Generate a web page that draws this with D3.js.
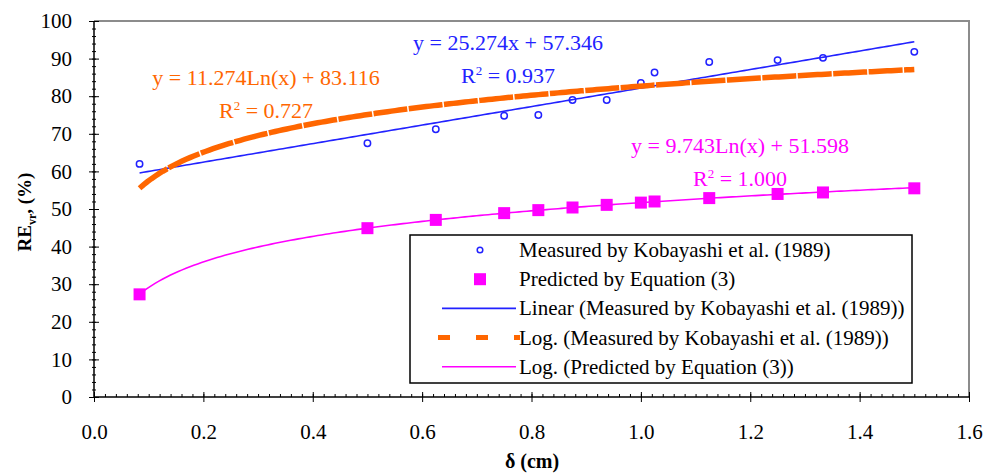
<!DOCTYPE html>
<html>
<head>
<meta charset="utf-8">
<script src="https://cdn.jsdelivr.net/npm/d3@7"></script>
<style>
  body { margin: 0; background: #fff; }
</style>
</head>
<body>
<script>
// DATA
var deltaValues = [0.0833, 0.5, 0.625, 0.75, 0.8125, 0.875, 0.9375, 1.0, 1.025, 1.125, 1.25, 1.333, 1.5];
var measuredValues = [62, 67.5, 71.2, 74.8, 75, 79, 79, 83.5, 86.3, 89.1, 89.6, 90.2, 91.8];
var predictedValues = [27.3, 44.9, 47.1, 48.9, 49.7, 50.4, 51.1, 51.7, 52.0, 52.9, 54.0, 54.4, 55.5];
var yTicks = [0, 10, 20, 30, 40, 50, 60, 70, 80, 90, 100];
var xTicks = [0, 0.2, 0.4, 0.6, 0.8, 1.0, 1.2, 1.4, 1.6];
var legendLabels = [
    "Measured by Kobayashi et al. (1989)",
    "Predicted by Equation (3)",
    "Linear (Measured by Kobayashi et al. (1989))",
    "Log. (Measured by Kobayashi et al. (1989))",
    "Log. (Predicted by Equation (3))"
];
var linearLabels = ["y = 25.274x + 57.346", "0.937"];
var logMeasuredLabels = ["y = 11.274Ln(x) + 83.116", "0.727"];
var logPredictedLabels = ["y = 9.743Ln(x) + 51.598", "1.000"];

var blue = "#2222ff", orange = "#ff6600", magenta = "#ff00ff";
var serif = "'Liberation Serif', 'Times New Roman', Times, 'DejaVu Serif', serif";

// DIMENSIONS
var W = 983, H = 474;
var margin = {top: 21, right: 14, bottom: 77, left: 94};
var width = W - margin.left - margin.right;
var height = H - margin.top - margin.bottom;

var svg = d3.select("body").append("svg")
    .attr("width", W)
    .attr("height", H)
    .attr("font-family", serif);

var g = svg.append("g")
    .attr("transform", `translate(${margin.left}, ${margin.top})`);

var x = d3.scaleLinear().domain([0, 1.6]).range([0, width]);
var y = d3.scaleLinear().domain([0, 100]).range([height, 0]);

// LEAST SQUARES FITS (TRENDLINES)
function fit(xs, ys) {
    var mx = d3.mean(xs), my = d3.mean(ys);
    var sxy = d3.sum(xs, (v, i) => (v - mx) * (ys[i] - my));
    var sxx = d3.sum(xs, v => (v - mx) * (v - mx));
    var a = sxy / sxx;
    return {a: a, b: my - a * mx};
}
var logX = deltaValues.map(Math.log);
var linFit = fit(deltaValues, measuredValues);
var logFitM = fit(logX, measuredValues);
var logFitP = fit(logX, predictedValues);

var xs = d3.range(0, 201).map(i => deltaValues[0] + (d3.max(deltaValues) - deltaValues[0]) * i / 200);

// PLOT AREA BORDER (TOP AND RIGHT)
g.append("path")
    .attr("d", `M0,0H${width}V${height}`)
    .attr("fill", "none")
    .attr("stroke", "#8c8c8c")
    .attr("stroke-width", 2);

// AXES
var yMinor = g.append("g").call(d3.axisLeft(y).tickValues(d3.range(0, 101, 2)).tickSize(2).tickFormat(""));
yMinor.selectAll(".tick line").attr("x1", 2);
yMinor.select(".domain").remove();

var xMinor = g.append("g").attr("transform", `translate(0, ${height})`)
    .call(d3.axisBottom(x).tickValues(d3.range(0, 81).map(i => i * 0.02)).tickSize(0).tickFormat(""));
xMinor.selectAll(".tick line").attr("y1", -3).attr("y2", 0);
xMinor.select(".domain").remove();

var yAxis = g.append("g")
    .call(d3.axisLeft(y).tickValues(yTicks).tickSize(5).tickPadding(17));
yAxis.attr("font-family", serif);
yAxis.selectAll(".tick line").attr("x1", 5);
yAxis.selectAll("text").style("font-size", "21px").style("font-family", serif);
yAxis.select(".domain").attr("d", `M0,${height}V0`).attr("stroke-width", 1.5);

var xAxis = g.append("g").attr("transform", `translate(0, ${height})`)
    .call(d3.axisBottom(x).tickValues(xTicks).tickSize(5).tickPadding(22).tickFormat(d3.format(".1f")));
xAxis.attr("font-family", serif);
xAxis.selectAll(".tick line").attr("y1", -5);
xAxis.selectAll("text").style("font-size", "21px").style("font-family", serif);
xAxis.select(".domain").attr("d", `M0,0H${width}`).attr("stroke-width", 1.5);

// MEASURED POINTS
g.selectAll(".measured")
    .data(deltaValues)
    .enter().append("circle")
    .attr("cx", d => x(d))
    .attr("cy", (d, i) => y(measuredValues[i]))
    .attr("r", 3.2)
    .attr("fill", "none")
    .attr("stroke", blue)
    .attr("stroke-width", 1.5);

// TRENDLINES
var line = d3.line().x(d => x(d[0])).y(d => y(d[1]));
g.append("path")
    .attr("d", line(xs.map(v => [v, linFit.a * v + linFit.b])))
    .attr("fill", "none").attr("stroke", blue).attr("stroke-width", 1.6);
g.append("path")
    .attr("d", line(xs.map(v => [v, logFitM.a * Math.log(v) + logFitM.b])))
    .attr("fill", "none").attr("stroke", orange).attr("stroke-width", 5.5)
    .attr("stroke-dasharray", "34,1.5");
g.append("path")
    .attr("d", line(xs.map(v => [v, logFitP.a * Math.log(v) + logFitP.b])))
    .attr("fill", "none").attr("stroke", magenta).attr("stroke-width", 1.6);

// PREDICTED POINTS
g.selectAll(".predicted")
    .data(deltaValues)
    .enter().append("rect")
    .attr("x", d => x(d) - 6)
    .attr("y", (d, i) => y(predictedValues[i]) - 6)
    .attr("width", 12)
    .attr("height", 12)
    .attr("fill", magenta);

// TRENDLINE EQUATIONS
function equation(lines, cx, y1, y2, color) {
    svg.append("text").attr("x", cx).attr("y", y1)
        .attr("text-anchor", "middle").attr("fill", color)
        .style("font-size", "22px").style("font-family", serif)
        .text(lines[0]);
    var r = svg.append("text").attr("x", cx).attr("y", y2)
        .attr("text-anchor", "middle").attr("fill", color)
        .style("font-size", "22px").style("font-family", serif);
    r.append("tspan").text("R");
    r.append("tspan").attr("dy", -8).style("font-size", "13px").text("2");
    r.append("tspan").attr("dy", 8).text(" = " + lines[1]);
}
equation(logMeasuredLabels, 266, 85, 118, orange);
equation(linearLabels, 508, 50, 83, blue);
equation(logPredictedLabels, 740, 153, 186, magenta);

// LEGEND
var legend = svg.append("g");
legend.append("rect")
    .attr("x", 410).attr("y", 235).attr("width", 502).attr("height", 148)
    .attr("fill", "#fff").attr("stroke", "#000").attr("stroke-width", 1.5);
var rowY = d => 250 + d * 29.2;
legend.append("circle").attr("cx", 480).attr("cy", rowY(0)).attr("r", 2.8)
    .attr("fill", "none").attr("stroke", blue).attr("stroke-width", 1.5);
legend.append("rect").attr("x", 474).attr("y", rowY(1) - 6).attr("width", 12).attr("height", 12)
    .attr("fill", magenta);
legend.append("line").attr("x1", 442).attr("x2", 516).attr("y1", rowY(2)).attr("y2", rowY(2))
    .attr("stroke", blue).attr("stroke-width", 1.6);
legend.append("line").attr("x1", 438).attr("x2", 520).attr("y1", rowY(3)).attr("y2", rowY(3))
    .attr("stroke", orange).attr("stroke-width", 5).attr("stroke-dasharray", "12,26");
legend.append("line").attr("x1", 442).attr("x2", 516).attr("y1", rowY(4)).attr("y2", rowY(4))
    .attr("stroke", magenta).attr("stroke-width", 1.6);
legend.selectAll(".lab")
    .data(legendLabels)
    .enter().append("text")
    .attr("x", 519)
    .attr("y", (d, i) => rowY(i) + 7)
    .style("font-size", "21px").style("font-family", serif)
    .text(d => d);

// AXIS TITLES
svg.append("text")
    .attr("x", 532).attr("y", 468)
    .attr("text-anchor", "middle")
    .style("font-size", "20px").style("font-weight", "bold").style("font-family", serif)
    .text("δ (cm)");

var yl = svg.append("text")
    .attr("transform", "translate(31, 212) rotate(-90)")
    .attr("text-anchor", "middle")
    .style("font-size", "19px").style("font-weight", "bold").style("font-family", serif);
yl.append("tspan").text("RE");
yl.append("tspan").attr("dy", 5).style("font-size", "12px").text("vr");
yl.append("tspan").attr("dy", -5).text(", (%)");
</script>
</body>
</html>
